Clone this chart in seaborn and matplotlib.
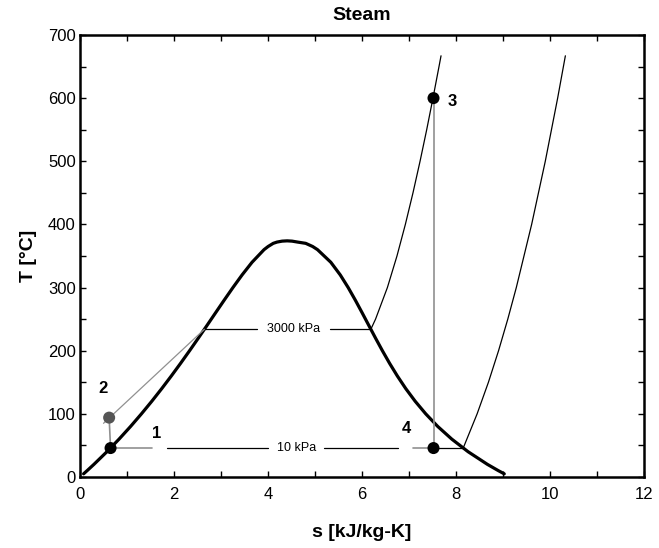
import numpy as np
import matplotlib
matplotlib.use("Agg")
import matplotlib.pyplot as plt
import seaborn as sns
from matplotlib.ticker import MultipleLocator

# Saturation dome (steam tables)
T_sat = [5, 10, 20, 40, 60, 80, 100, 120, 140, 160, 180, 200, 220, 240,
         260, 280, 300, 320, 340, 360, 365, 370, 372, 373.5, 373.95]
s_liq = [0.0763, 0.1511, 0.2965, 0.5724, 0.8313, 1.0756, 1.3069, 1.5279,
         1.7392, 1.9427, 2.1396, 2.3309, 2.5178, 2.7015, 2.8838, 3.0668,
         3.2534, 3.4480, 3.6594, 3.9147, 4.0015, 4.1106, 4.19, 4.30, 4.4070]
s_vap = [9.0249, 8.8998, 8.6661, 8.2557, 7.9082, 7.6103, 7.3544, 7.1292,
         6.9294, 6.7502, 6.5857, 6.4323, 6.2861, 6.1437, 6.0019, 5.8571,
         5.7045, 5.5362, 5.3357, 5.0526, 4.9491, 4.8013, 4.63, 4.51, 4.4070]

# Superheated isobars
T_3000 = [233.9, 250, 300, 350, 400, 450, 500, 550, 600, 650, 667]
s_3000 = [6.1869, 6.2872, 6.5390, 6.7428, 6.9212, 7.0834, 7.2338, 7.3752,
          7.5085, 7.6370, 7.680]
T_10 = [45.81, 50, 100, 150, 200, 250, 300, 400, 500, 600, 667]
s_10 = [8.1488, 8.1749, 8.4479, 8.6882, 8.9038, 9.1002, 9.2813, 9.6077,
        9.8978, 10.1608, 10.325]

# Cycle state points
pt_labels = ["1", "2", "3", "4"]
pt_s = [0.65, 0.62, 7.52, 7.52]
pt_T = [45.8, 94, 600, 45.8]

sns.set_style("ticks", {"axes.edgecolor": "black", "text.color": "black",
                        "xtick.color": "black", "ytick.color": "black",
                        "axes.labelcolor": "black"})
plt.rcParams["font.family"] = ["Liberation Sans", "DejaVu Sans"]

fig = plt.figure(figsize=(6.59, 5.48), dpi=100)
ax = fig.add_axes([0.1214, 0.1296, 0.856, 0.8066])

# dome
dome_s = s_liq + s_vap[::-1]
dome_T = T_sat + T_sat[::-1]
sns.lineplot(x=dome_s, y=dome_T, sort=False, estimator=None, color="black",
             linewidth=2.3, ax=ax)

# isobars above dome
sns.lineplot(x=s_3000, y=T_3000, sort=False, estimator=None, color="black",
             linewidth=0.9, ax=ax)
sns.lineplot(x=s_10, y=T_10, sort=False, estimator=None, color="black",
             linewidth=0.9, ax=ax)

# isobars inside dome with label gaps
ax.plot([2.6455, 3.77], [233.9, 233.9], color="black", lw=0.9)
ax.plot([5.32, 6.1869], [233.9, 233.9], color="black", lw=0.9)
ax.text(4.55, 233.9, "3000 kPa", ha="center", va="center", fontsize=9)

ax.plot([1.85, 4.0], [45.81, 45.81], color="black", lw=0.9)
ax.plot([5.2, 6.77], [45.81, 45.81], color="black", lw=0.9)
ax.plot([7.52, 8.1488], [45.81, 45.81], color="black", lw=0.9)
ax.text(4.6, 45.81, "10 kPa", ha="center", va="center", fontsize=9)

# cycle process lines
grey = "#909090"
ax.plot([pt_s[0], 1.53], [pt_T[0], pt_T[0]], color=grey, lw=1.2)
ax.plot([7.09, pt_s[3]], [pt_T[3], pt_T[3]], color=grey, lw=1.2)
ax.plot([pt_s[0], pt_s[1]], [pt_T[0], pt_T[1]], color=grey, lw=1.2)
ax.plot([0.50, 2.6455], [85, 233.9], color=grey, lw=0.9)
ax.plot([pt_s[2], pt_s[3]], [pt_T[2], pt_T[3]], color=grey, lw=1.2)

sns.scatterplot(x=pt_s, y=pt_T, hue=pt_labels,
                palette=["black", "#555555", "black", "black"],
                s=75, edgecolor="none", legend=False, ax=ax, zorder=5)

lab_s = [1.63, 0.48, 7.91, 6.94]
lab_T = [69, 140, 595, 77]
for lab, x, y in zip(pt_labels, lab_s, lab_T):
    ax.text(x, y, lab, ha="center", va="center", fontsize=12,
            fontweight="bold")

ax.set_xlim(0, 12)
ax.set_ylim(0, 700)
ax.xaxis.set_major_locator(MultipleLocator(2))
ax.xaxis.set_minor_locator(MultipleLocator(1))
ax.yaxis.set_major_locator(MultipleLocator(100))
ax.yaxis.set_minor_locator(MultipleLocator(50))
ax.tick_params(which="both", direction="in", top=True, right=True,
               length=4, width=1, labelsize=12)
ax.tick_params(axis="x", pad=7)
ax.tick_params(axis="y", pad=3)
for sp in ax.spines.values():
    sp.set_linewidth(1.8)

ax.set_xlabel("s [kJ/kg-K]", fontsize=14, fontweight="bold", labelpad=16)
ax.set_ylabel("T [°C]", fontsize=14, fontweight="bold", labelpad=8)
ax.set_title("Steam", fontsize=14, fontweight="bold", pad=11)

fig.savefig("out.png", dpi=100)
